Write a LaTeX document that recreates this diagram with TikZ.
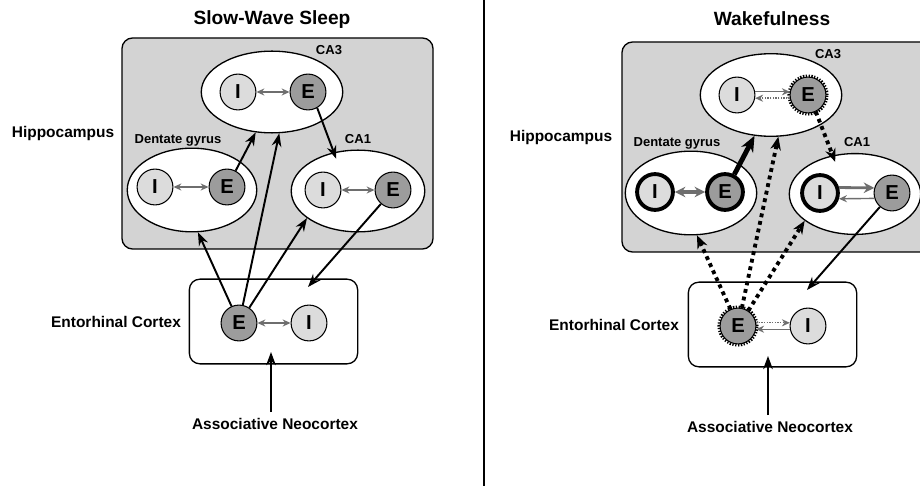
\documentclass[tikz,border=0pt]{standalone}
\usepackage{fontspec}
\setmainfont{Liberation Sans}
\usetikzlibrary{arrows.meta,shapes.geometric,calc}
\definecolor{boxgray}{HTML}{D3D3D3}
\definecolor{egray}{HTML}{9C9C9C}
\definecolor{igray}{HTML}{DCDCDC}
\definecolor{agray}{HTML}{6E6E6E}
\begin{document}
\begin{tikzpicture}[x=0.02cm,y=-0.02cm,
  hippo/.style={draw=black, line width=0.75pt, fill=boxgray, rounded corners=6pt},
  region/.style={ellipse, draw, fill=white, line width=0.75pt, inner sep=0pt},
  ecbox/.style={draw, fill=white, rounded corners=6pt, line width=0.75pt, minimum width=95.8pt, minimum height=48.2pt, inner sep=0pt},
  cell/.style={circle, draw, line width=0.6pt, minimum size=20.4pt, inner sep=0pt, font=\fontsize{11.5}{11.5}\selectfont\bfseries},
  ecell/.style={cell, fill=egray},
  icell/.style={cell, fill=igray},
  strongcell/.style={line width=2.2pt},
  serr/.style={preaction={draw, line width=3pt, dash pattern=on 0.7pt off 0.8pt}},
  ttl/.style={anchor=base, font=\fontsize{10.9}{13}\selectfont\bfseries},
  lab/.style={anchor=base, font=\fontsize{8.8}{10}\selectfont\bfseries, inner sep=0pt},
  sublab/.style={anchor=base, font=\fontsize{7.4}{9}\selectfont\bfseries, inner sep=0pt},
  conn/.style={-{Stealth[length=7.5pt,width=5.5pt]}, line width=1.1pt},
  bigconn/.style={-{Stealth[length=9pt,width=7.5pt]}, line width=2.8pt},
  dotconn/.style={-{Stealth[length=7.5pt,width=6pt]}, line width=2.2pt, dash pattern=on 2.2pt off 2.2pt},
  gtip/.style={-{Stealth[length=4.5pt,width=4pt]}},
  innerarr/.style={agray, line width=0.85pt, {Stealth[length=4.5pt,width=4pt]}-{Stealth[length=4.5pt,width=4pt]}},
  gline/.style={agray, line width=0.8pt, gtip},
  gdot/.style={agray, line width=0.8pt, dash pattern=on 0.8pt off 0.7pt, gtip}
]
\clip (0,0) rectangle (920,486);
\fill[white] (0,0) rectangle (920,486);
\draw[line width=0.7pt] (484,0) -- (484,486);

%%%%%%%%%%%%%%%% LEFT: Slow-Wave Sleep
\node[ttl] (ttlL) at (272,25) {Slow-Wave Sleep};
\draw[hippo] (122,38) rectangle (433,249);
\node[lab] (hipL) at (63,138) {Hippocampus};
\node[region, minimum width=80.5pt, minimum height=46.5pt] (ca3L) at (272,92) {};
\node[region, minimum width=73.7pt, minimum height=47.6pt] (dgL) at (192,190) {};
\node[region, minimum width=76pt, minimum height=46.5pt] (ca1L) at (358,191) {};
\node[sublab] (ca3Llab) at (329,55) {CA3};
\node[sublab] (dgLlab) at (178,144) {Dentate gyrus};
\node[sublab] (ca1Llab) at (358,144) {CA1};
\node[icell] (ca3LI) at (238,92) {I};
\node[ecell] (ca3LE) at (308,92) {E};
\node[icell] (dgLI) at (155,187) {I};
\node[ecell] (dgLE) at (227,187) {E};
\node[icell] (ca1LI) at (323,190) {I};
\node[ecell] (ca1LE) at (393,190) {E};
\node[ecbox] (ecL) at (273.5,321.5) {};
\node[ecell] (ecLE) at (239,323) {E};
\node[icell] (ecLI) at (309,323) {I};
\node[lab] (ecLlab) at (116,328) {Entorhinal Cortex};
\node[lab] (neoL) at (275,429) {Associative Neocortex};
\coordinate (ecLtop) at (308,287);
\coordinate (ecLbot) at (271,352);

\draw[innerarr] (ca3LI) -- (ca3LE);
\draw[innerarr] (dgLI) -- (dgLE);
\draw[innerarr] (ca1LI) -- (ca1LE);
\draw[innerarr] (ecLE) -- (ecLI);

\draw[conn] (dgLE.62) -- (ca3L.248);
\draw[conn] (ecLE.114) -- (dgL.278);
\draw[conn] (ecLE.78) -- (ca3L.280);
\draw[conn] (ecLE.56) -- (ca1L.208);
\draw[conn, shorten >=-4pt] (ca3LE.300) -- (ca1L.122);
\draw[conn] (ca1LE.229) -- (ecLtop);
\draw[conn] ([yshift=3pt]neoL.north -| ecLbot) -- (ecLbot);

%%%%%%%%%%%%%%%% RIGHT: Wakefulness
\node[ttl] (ttlR) at (772,26) {Wakefulness};
\draw[hippo] (622,42) rectangle (935,252);
\node[lab] (hipR) at (561,142) {Hippocampus};
\node[region, minimum width=80.5pt, minimum height=47pt] (ca3R) at (771,95) {};
\node[region, minimum width=74.8pt, minimum height=47.6pt] (dgR) at (691,193) {};
\node[region, minimum width=74.8pt, minimum height=46pt] (ca1R) at (855,194) {};
\node[sublab] (ca3Rlab) at (828,59) {CA3};
\node[sublab] (dgRlab) at (677,147) {Dentate gyrus};
\node[sublab] (ca1Rlab) at (857,147) {CA1};
\node[icell] (ca3RI) at (737,95) {I};
\node[ecell, serr] (ca3RE) at (808,95) {E};
\node[icell, strongcell] (dgRI) at (655,192) {I};
\node[ecell, strongcell] (dgRE) at (725,192) {E};
\node[icell, strongcell] (ca1RI) at (820,193) {I};
\node[ecell] (ca1RE) at (892,193) {E};
\node[ecbox] (ecR) at (772.5,324.5) {};
\node[ecell, serr] (ecRE) at (738,326) {E};
\node[icell] (ecRI) at (808,326) {I};
\node[lab] (ecRlab) at (614,331) {Entorhinal Cortex};
\node[lab] (neoR) at (770,432) {Associative Neocortex};
\coordinate (ecRtop) at (807,290);
\coordinate (ecRbot) at (768,356);

\draw[gline] (ca3RI.10) -- (ca3RE.170);
\draw[gdot] (ca3RE.190) -- (ca3RI.350);
\draw[agray, line width=1.8pt, {Stealth[length=6pt,width=6pt]}-{Stealth[length=6pt,width=6pt]}] (dgRI) -- (dgRE);
\draw[agray, line width=1.6pt, -{Stealth[length=6pt,width=6pt]}] (ca1RI.16) -- (ca1RE.164);
\draw[gline] (ca1RE.197) -- (ca1RI.343);
\draw[gdot] (ecRE.10) -- (ecRI.170);
\draw[gline] (ecRI.190) -- (ecRE.350);

\draw[bigconn] (dgRE.62) -- (ca3R.248);
\draw[dotconn] (ecRE.114) -- (dgR.278);
\draw[dotconn] (ecRE.78) -- (ca3R.280);
\draw[dotconn] (ecRE.56) -- (ca1R.208);
\draw[dotconn, shorten >=-4pt] (ca3RE.295) -- (ca1R.120);
\draw[conn] (ca1RE.229) -- (ecRtop);
\draw[conn] ([yshift=3pt]neoR.north -| ecRbot) -- (ecRbot);
\end{tikzpicture}
\end{document}
